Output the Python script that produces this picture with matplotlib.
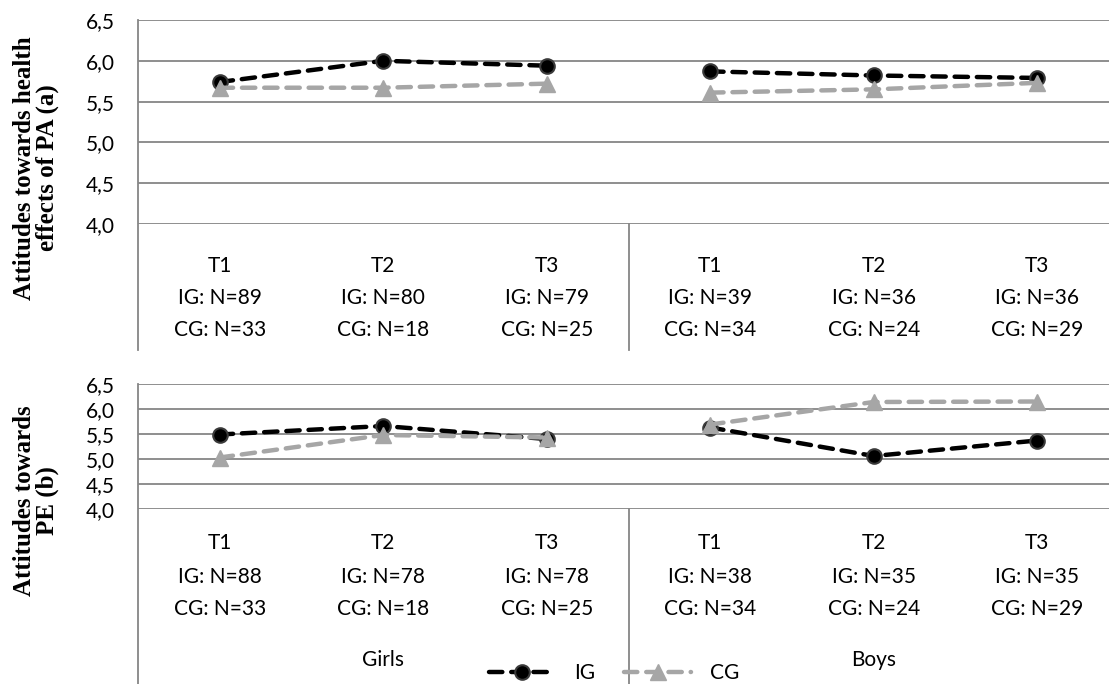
import matplotlib
matplotlib.use("Agg")
import matplotlib.pyplot as plt
import matplotlib.transforms as mtransforms
from matplotlib.lines import Line2D

# data
times = ["T1", "T2", "T3"]
groups = ["Girls", "Boys"]
yticks = [4.0, 4.5, 5.0, 5.5, 6.0, 6.5]

# panel (a): attitudes towards health effects of PA
a_ig_girls = [5.74, 6.00, 5.94]
a_cg_girls = [5.67, 5.67, 5.72]
a_ig_boys = [5.87, 5.82, 5.79]
a_cg_boys = [5.61, 5.65, 5.73]
a_n_ig = [89, 80, 79, 39, 36, 36]
a_n_cg = [33, 18, 25, 34, 24, 29]

# panel (b): attitudes towards PE
b_ig_girls = [5.49, 5.66, 5.40]
b_cg_girls = [5.03, 5.48, 5.43]
b_ig_boys = [5.63, 5.06, 5.37]
b_cg_boys = [5.69, 6.14, 6.15]
b_n_ig = [88, 78, 78, 38, 35, 35]
b_n_cg = [33, 18, 25, 34, 24, 29]

W, H = 1109, 684
GRID = "#868686"
CG_COL = "#A6A6A6"
TXT_FONT = ["Lato", "DejaVu Sans"]
FS = 15
DASH = (3.0, 2.0)

fig = plt.figure(figsize=(W / 100, H / 100), dpi=100)


def px_axes(left, top, right, bottom):
    return fig.add_axes([left / W, 1 - bottom / H, (right - left) / W, (bottom - top) / H])


def draw_panel(ax, ig_g, cg_g, ig_b, cg_b, n_ig, n_cg, ylabel, label_y, rows_y, cat_bottom, group_y=None):
    ax.set_xlim(0, 6)
    ax.set_ylim(4.0, 6.5)
    for sp in ax.spines.values():
        sp.set_visible(False)
    ax.set_yticks(yticks)
    ax.set_yticklabels([f"{v:.1f}".replace(".", ",") for v in yticks], fontsize=FS, family=TXT_FONT)
    ax.tick_params(axis="y", length=0, pad=17)
    ax.set_xticks([])
    ax.yaxis.grid(True, color=GRID, lw=1.3)
    ax.set_axisbelow(True)

    style = dict(lw=3.2, dashes=DASH, dash_capstyle="round", clip_on=False)
    xs_g = [0.5, 1.5, 2.5]
    xs_b = [3.5, 4.5, 5.5]
    for xs, ig, cg in [(xs_g, ig_g, cg_g), (xs_b, ig_b, cg_b)]:
        # IG first, CG drawn on top (as in the original)
        ax.plot(xs, ig, color="black", marker="o", ms=10.5, mfc="black", mec="#3a3a3a", mew=1.5, zorder=3, **style)
        ax.plot(xs, cg, color=CG_COL, marker="^", ms=11, mfc=CG_COL, mec=CG_COL, zorder=4, **style)

    # axis line and group separator extending through the category area
    bt = mtransforms.blended_transform_factory(ax.transData, fig.transFigure)
    top_f = ax.get_position().y1
    bot_f = 1 - cat_bottom / H
    ax.add_line(Line2D([0, 0], [top_f, bot_f], transform=bt, color=GRID, lw=1.3, clip_on=False))
    ax.add_line(Line2D([3, 3], [ax.get_position().y0, bot_f], transform=bt, color=GRID, lw=1.3, clip_on=False))

    for i in range(6):
        x = i + 0.5
        ax.text(x, 1 - rows_y[0] / H, times[i % 3], transform=bt, ha="center", va="center", fontsize=FS, family=TXT_FONT)
        ax.text(x, 1 - rows_y[1] / H, f"IG: N={n_ig[i]}", transform=bt, ha="center", va="center", fontsize=FS, family=TXT_FONT)
        ax.text(x, 1 - rows_y[2] / H, f"CG: N={n_cg[i]}", transform=bt, ha="center", va="center", fontsize=FS, family=TXT_FONT)
    if group_y is not None:
        for j, g in enumerate(groups):
            ax.text(1.5 + 3 * j, 1 - group_y / H, g, transform=bt, ha="center", va="center", fontsize=FS, family=TXT_FONT)

    fig.text(36 / W, 1 - label_y / H, ylabel, rotation=90, ha="center", va="center", fontsize=18,
             fontweight="bold", family="Liberation Serif", linespacing=1.0, multialignment="center")


ax1 = px_axes(138, 20, 1119, 224)
draw_panel(ax1, a_ig_girls, a_cg_girls, a_ig_boys, a_cg_boys, a_n_ig, a_n_cg,
           "Attitudes towards health\neffects of PA (a)", 168, (266, 298, 330), 350)

ax2 = px_axes(138, 384, 1119, 509)
draw_panel(ax2, b_ig_girls, b_cg_girls, b_ig_boys, b_cg_boys, b_n_ig, b_n_cg,
           "Attitudes towards\nPE (b)", 501, (543, 577, 609), 690, group_y=660)

h_ig = Line2D([], [], color="black", lw=3.2, dashes=DASH, dash_capstyle="round",
              marker="o", ms=10.5, mfc="black", mec="#3a3a3a", mew=1.5)
h_cg = Line2D([], [], color=CG_COL, lw=3.2, dashes=DASH, dash_capstyle="round",
              marker="^", ms=11, mfc=CG_COL, mec=CG_COL)
fig.legend([h_ig, h_cg], ["IG", "CG"], loc="center", bbox_to_anchor=(614 / W, 1 - 673 / H), ncol=2,
           frameon=False, handlelength=3.2, columnspacing=1.4, handletextpad=0.9,
           prop={"family": TXT_FONT, "size": FS})

fig.savefig("out.png", dpi=100)
